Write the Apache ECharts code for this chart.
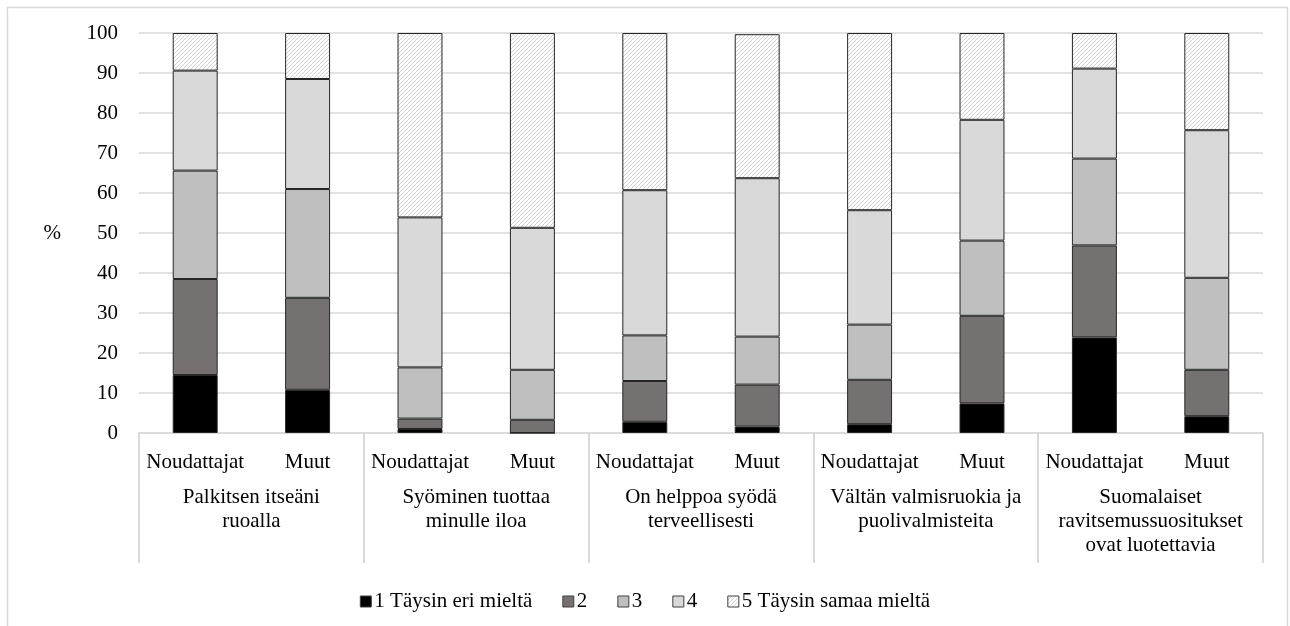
<!DOCTYPE html>
<html>
<head>
<meta charset="utf-8">
<script src="https://cdn.jsdelivr.net/npm/echarts@6/dist/echarts.min.js"></script>
<style>
  html, body { margin: 0; padding: 0; background: #ffffff; }
  #chart { width: 1290px; height: 626px; }
</style>
</head>
<body>
<div id="chart"></div>
<script>
// ---- data ----
const groups = [
  "Palkitsen itseäni\nruoalla",
  "Syöminen tuottaa\nminulle iloa",
  "On helppoa syödä\nterveellisesti",
  "Vältän valmisruokia ja\npuolivalmisteita",
  "Suomalaiset\nravitsemussuositukset\novat luotettavia"
];
const subCategories = [
  "Noudattajat", "Muut", "Noudattajat", "Muut", "Noudattajat",
  "Muut", "Noudattajat", "Muut", "Noudattajat", "Muut"
];
const seriesNames = ["1 Täysin eri mieltä", "2", "3", "4", "5 Täysin samaa mieltä"];
const s1 = [14.5, 10.8, 1.0, 0.0, 2.8, 1.6, 2.2, 7.4, 23.9, 4.2];
const s2 = [24.0, 23.0, 2.6, 3.3, 10.2, 10.5, 11.1, 21.9, 23.0, 11.6];
const s3 = [27.1, 27.2, 12.8, 12.5, 11.4, 12.0, 13.8, 18.8, 21.7, 23.0];
const s4 = [25.0, 27.5, 37.5, 35.5, 36.3, 39.6, 28.6, 30.2, 22.5, 36.9];
const s5 = [9.4, 11.5, 46.1, 48.7, 39.3, 36.0, 44.3, 21.7, 8.9, 24.3];
const yTicks = [0, 10, 20, 30, 40, 50, 60, 70, 80, 90, 100];

// ---- hatch pattern ----
function makeHatch() {
  const s = 4;
  const c = document.createElement('canvas');
  c.width = s; c.height = s;
  const g = c.getContext('2d');
  g.fillStyle = '#ffffff';
  g.fillRect(0, 0, s, s);
  g.strokeStyle = '#d0d0d0';
  g.lineWidth = 1;
  g.beginPath();
  g.moveTo(0, s); g.lineTo(s, 0);
  g.moveTo(-1, 1); g.lineTo(1, -1);
  g.moveTo(s - 1, s + 1); g.lineTo(s + 1, s - 1);
  g.stroke();
  return c;
}
const hatch = { image: makeHatch(), repeat: 'repeat' };

const font = "'Liberation Serif', 'Times New Roman', serif";
const fs = 21;
const fills = ['#000000', '#767171', '#bfbfbf', '#d9d9d9', hatch];
const allData = [s1, s2, s3, s4, s5];

const chart = echarts.init(document.getElementById('chart'), null, { renderer: 'canvas' });

const series = seriesNames.map((name, i) => ({
  name: name,
  type: 'bar',
  stack: 'total',
  xAxisIndex: 0,
  barWidth: '40%',
  data: allData[i],
  itemStyle: { color: fills[i], borderColor: '#262626', borderWidth: 1 },
  emphasis: { disabled: true }
}));

chart.setOption({
  animation: false,
  backgroundColor: '#ffffff',
  textStyle: { fontFamily: font },
  graphic: [{
    type: 'rect',
    shape: { x: 7.5, y: 7.5, width: 1280, height: 640 },
    style: { fill: 'none', stroke: '#d9d9d9', lineWidth: 1.5 },
    silent: true,
    z: -10
  }],
  grid: { left: 139, right: 27, top: 33, bottom: 193, containLabel: false },
  legend: {
    data: seriesNames,
    top: 586,
    left: 'center',
    itemWidth: 11,
    itemHeight: 11,
    itemGap: 30,
    icon: 'rect',
    itemStyle: { borderColor: '#404040', borderWidth: 1 },
    textStyle: { fontFamily: font, fontSize: fs, color: '#000000', padding: [0, 0, 0, -2] },
    selectedMode: false
  },
  xAxis: [
    {
      type: 'category',
      data: subCategories,
      position: 'bottom',
      axisLine: { show: true, lineStyle: { color: '#d9d9d9', width: 1.5 } },
      axisTick: { show: false },
      axisLabel: { interval: 0, fontFamily: font, fontSize: fs, color: '#000000', margin: 19 }
    },
    {
      type: 'category',
      data: groups,
      position: 'bottom',
      axisLine: { show: false },
      axisTick: { show: true, length: 130, interval: 0, lineStyle: { color: '#d9d9d9', width: 2 } },
      axisLabel: { interval: 0, fontFamily: font, fontSize: fs, color: '#000000', margin: 52, lineHeight: 24, align: 'center' },
      splitLine: { show: false }
    }
  ],
  yAxis: {
    type: 'value',
    min: yTicks[0],
    max: yTicks[yTicks.length - 1],
    interval: 10,
    name: '%',
    nameLocation: 'middle',
    nameRotate: 0,
    nameGap: 78,
    nameTextStyle: { fontFamily: font, fontSize: fs, color: '#000000', padding: [16, 0, 0, 0] },
    axisLine: { show: false },
    axisTick: { show: false },
    axisLabel: { fontFamily: font, fontSize: fs, color: '#000000', margin: 21 },
    splitLine: { show: true, lineStyle: { color: '#d9d9d9', width: 1.5 } }
  },
  series: series
});
</script>
</body>
</html>
